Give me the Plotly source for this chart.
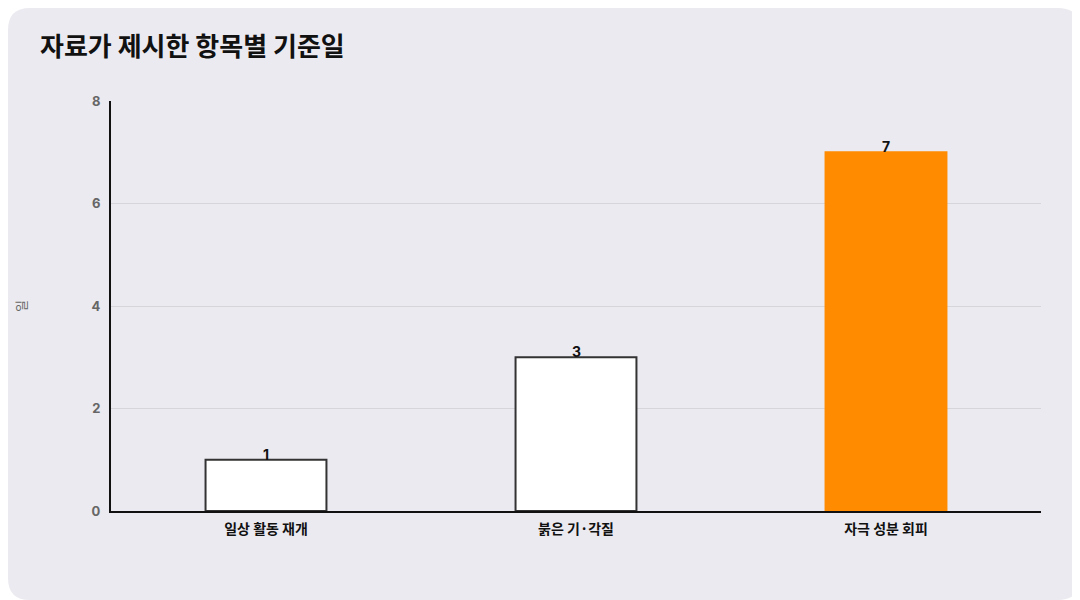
import plotly.graph_objects as go

# 데이터
categories = ["일상 활동 재개", "붉은 기·각질", "자극 성분 회피"]
days = [1, 3, 7]
bar_colors = ["#ffffff", "#ffffff", "#ff8c00"]
line_colors = ["#333333", "#333333", "#ff8c00"]

# 페이지 body 여백(8px) 만큼 안쪽 크기로 맞춤
W, H = 1072, 592
L, R, T, B = 103, 39, 93, 89
pw, ph = W - L - R, H - T - B


def px_x(p):
    return (p - L) / pw


def px_y(p):
    return (H - B - p) / ph


# 둥근 배경 (paper 좌표로 변환)
r = 22
pts = [
    ("M", r, 0), ("L", W - r, 0), ("Q", W, 0, W, r), ("L", W, H - r),
    ("Q", W, H, W - r, H), ("L", r, H), ("Q", 0, H, 0, H - r),
    ("L", 0, r), ("Q", 0, 0, r, 0),
]
path = ""
for p in pts:
    cmd, coords = p[0], p[1:]
    conv = []
    for i in range(0, len(coords), 2):
        conv.append(f"{px_x(coords[i]):.5f},{px_y(coords[i + 1]):.5f}")
    path += cmd + " " + " ".join(conv) + " "
path += "Z"

fig = go.Figure()

fig.add_trace(go.Bar(
    x=categories, y=days,
    marker=dict(color=bar_colors, line=dict(color=line_colors, width=2)),
    width=0.39,
    hoverinfo="skip",
))

# 막대 위 값 표시
labels = [dict(
    x=c, y=d, text=str(d), xref="x", yref="y",
    yanchor="bottom", yshift=-5, showarrow=False,
    font=dict(family="Inter, Noto Sans CJK KR", size=14, color="#111111", weight="bold"),
) for c, d in zip(categories, days)]

fig.update_layout(
    width=W, height=H,
    margin=dict(l=L, r=R, t=T, b=B),
    paper_bgcolor="#ffffff",
    plot_bgcolor="rgba(0,0,0,0)",
    showlegend=False,
    font=dict(family="Inter, Noto Sans CJK KR"),
    title=dict(
        text="자료가 제시한 항목별 기준일",
        x=32 / W, xanchor="left", y=1 - 39 / H, yanchor="middle",
        font=dict(family="Noto Sans CJK KR", size=26, color="#111111", weight="bold"),
    ),
    shapes=[dict(
        type="path", path=path, xref="paper", yref="paper",
        fillcolor="#ebeaf0", line=dict(width=0), layer="below",
    )],
    annotations=labels + [dict(
        text="일", xref="paper", yref="paper", x=px_x(12), y=0.5,
        xanchor="center", yanchor="middle",
        textangle=-90, showarrow=False,
        font=dict(family="Noto Sans CJK KR", size=13, color="#666666"),
    )],
    bargap=0.61,
)

fig.update_xaxes(
    showline=True, linecolor="#111111", linewidth=2,
    showgrid=False, ticks="", ticklabelstandoff=4,
    tickfont=dict(family="Noto Sans CJK KR", size=14, color="#111111", weight="bold"),
)
fig.update_yaxes(
    range=[0, 8], dtick=2,
    showline=True, linecolor="#111111", linewidth=2,
    showgrid=True, gridcolor="#d6d5da", gridwidth=1,
    zeroline=False, ticks="", ticklabelstandoff=6,
    tickfont=dict(family="Inter", size=13, color="#666666", weight="bold"),
)

fig.write_html("out.html")
